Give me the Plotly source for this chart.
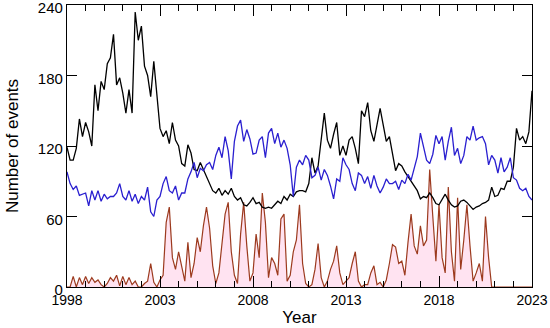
import plotly.graph_objects as go

# time axis: every 2 months from Jan 1998 to Jan 2023
months = list(range(0, 301, 2))
years = [1998 + m / 12 for m in months]

black_vals = [
    119,108,108,118,143,128,140,132,120,172,150,175,168,190,195,215,172,178,165,148,168,148,234,210,222,188,180,162,192,160,135,
    128,133,122,140,125,120,105,103,121,114,100,99,106,100,94,88,82,80,84,78,82,79,84,77,74,76,70,69,72,76,
    71,72,68,67,68,67,70,73,71,77,74,79,77,81,82,82,81,88,110,97,103,127,148,125,118,130,140,112,120,112,
    125,128,118,105,150,145,157,133,124,138,152,138,124,128,114,99,105,103,98,94,91,87,82,75,77,76,80,76,71,70,
    74,79,74,70,68,69,73,74,72,69,66,68,69,71,72,74,85,77,78,84,83,90,90,102,135,125,128,122,132,167,
]

blue_vals = [
    98,88,83,86,78,79,80,69,82,74,82,73,79,75,77,77,80,88,77,74,82,73,79,71,77,74,85,64,60,74,77,
    88,94,82,80,86,74,80,80,92,98,106,93,101,99,104,106,100,112,119,110,128,116,92,124,137,142,124,134,126,113,
    114,125,128,110,131,135,122,131,119,125,118,104,77,102,108,104,112,108,93,95,102,91,100,95,86,75,92,90,110,104,
    100,88,82,97,95,88,94,84,95,86,80,85,92,88,88,90,83,91,88,96,91,102,111,131,118,108,105,113,129,122,
    128,108,124,136,112,118,105,112,128,125,137,125,127,128,122,104,112,108,97,110,98,102,110,93,91,84,82,84,77,74,
]

red_vals = [
    0,0,9,0,8,2,9,3,8,4,6,2,0,3,8,5,10,1,9,2,8,2,5,0,0,3,5,20,4,0,6,
    10,55,68,25,15,30,18,5,38,8,20,42,30,52,68,50,18,3,12,40,62,72,30,10,3,45,72,35,5,12,
    45,25,80,55,8,25,20,10,58,62,5,10,30,40,70,20,3,0,2,15,37,8,0,5,15,22,35,12,2,5,
    8,20,30,5,0,2,2,12,18,2,4,0,6,20,36,34,20,22,10,38,62,35,28,52,35,40,100,60,22,70,
    25,12,85,30,5,76,15,40,70,35,5,12,20,5,60,25,0,0,0,0,0,0,0,0,0,0,0,0,0,0,
]

x_ticks = [1998, 2003, 2008, 2013, 2018, 2023]
y_ticks = [0, 60, 120, 180, 240]

fig = go.Figure()
fig.add_trace(go.Scatter(x=years, y=red_vals, mode="lines",
                         line=dict(color="#9c3a1e", width=1.2),
                         fill="tozeroy", fillcolor="rgba(255,200,228,0.5)"))
fig.add_trace(go.Scatter(x=years, y=black_vals, mode="lines",
                         line=dict(color="#000000", width=1.3)))
fig.add_trace(go.Scatter(x=years, y=blue_vals, mode="lines",
                         line=dict(color="#2a1fd0", width=1.3)))

font_family = "Liberation Sans, Arial, sans-serif"
fig.update_layout(
    width=550, height=328,
    margin=dict(l=67, r=18, t=5, b=41),
    paper_bgcolor="white", plot_bgcolor="white",
    showlegend=False,
    font=dict(family=font_family, size=15, color="black"),
)
fig.update_xaxes(
    range=[1998, 2023], tickvals=x_ticks, ticktext=[str(v) for v in x_ticks],
    ticks="inside", ticklen=11, tickwidth=1.2, tickcolor="black",
    showline=True, linecolor="black", linewidth=1.2, mirror="ticks",
    showgrid=False, zeroline=False, automargin=False,
    ticklabeloverflow="allow",
    minor=dict(dtick=1, tick0=1998, ticks="inside", ticklen=6, tickwidth=1.2, tickcolor="black", showgrid=False),
    title=dict(text="Year", font=dict(size=17), standoff=4),
    tickfont=dict(size=14),
)
fig.update_yaxes(
    range=[0, 240], tickvals=y_ticks,
    ticks="inside", ticklen=10, tickwidth=1.2, tickcolor="black",
    showline=True, linecolor="black", linewidth=1.2, mirror="ticks",
    showgrid=False, zeroline=False, automargin=False,
    ticklabeloverflow="allow", ticklabelshift=3,
    title=dict(text="Number of events", font=dict(size=17), standoff=14),
    tickfont=dict(size=15),
)
fig.write_html("out.html",
               config={"displayModeBar": False},
               post_script="document.body.style.margin='0';document.body.style.padding='0';")
